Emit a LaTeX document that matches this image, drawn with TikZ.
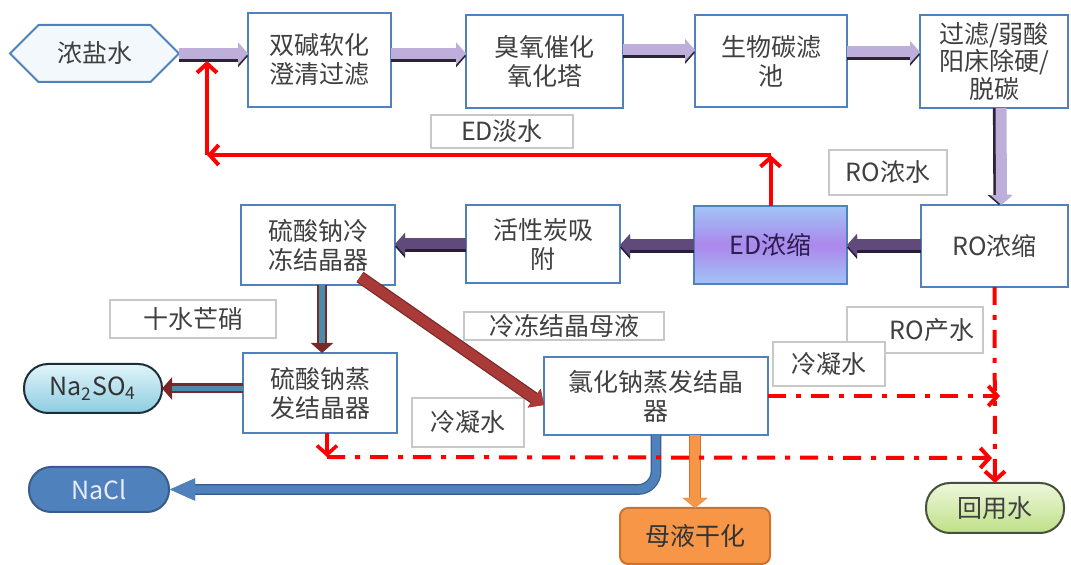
\documentclass[tikz,border=0pt]{standalone}
\usepackage{fontspec}
\setmainfont{Noto Sans CJK SC}
\usetikzlibrary{arrows.meta,shapes.symbols,calc}
\definecolor{boxblue}{RGB}{79,129,189}
\definecolor{txt}{RGB}{64,64,64}
\definecolor{lav}{RGB}{190,174,218}
\definecolor{lavdark}{RGB}{45,35,55}
\definecolor{midpurp}{RGB}{96,74,123}
\definecolor{midpurpdk}{RGB}{40,28,55}
\definecolor{brickred}{RGB}{170,58,56}
\definecolor{brickdk}{RGB}{120,40,38}
\definecolor{teal1}{RGB}{75,140,170}
\definecolor{nablue}{RGB}{79,129,189}
\definecolor{nabluedk}{RGB}{56,93,138}
\definecolor{orng}{RGB}{247,150,70}
\definecolor{orngdk}{RGB}{205,115,45}
\definecolor{lblgray}{RGB}{200,200,200}
\definecolor{brinefill}{RGB}{243,248,253}
\definecolor{edtop}{RGB}{160,196,245}
\definecolor{edmid}{RGB}{172,135,236}
\definecolor{edtxt}{RGB}{40,30,80}
\definecolor{cytop}{RGB}{225,244,249}
\definecolor{cybot}{RGB}{140,205,225}
\definecolor{cydk}{RGB}{30,45,55}
\definecolor{grtop}{RGB}{238,247,220}
\definecolor{grbot}{RGB}{190,224,135}
\definecolor{grdk}{RGB}{70,80,60}
\begin{document}
\begin{tikzpicture}[x=0.5pt,y=-0.5pt,
  every node/.style={font=\fontsize{12.5}{14.5}\selectfont, text=txt, inner sep=0pt, outer sep=0pt},
  box/.style={draw=boxblue, line width=1pt, fill=white, align=center},
  lbl/.style={draw=lblgray, line width=0.6pt, fill=white},
  toparr/.style={line width=5.5pt, draw=lav, -{Triangle[length=5pt,width=11pt]}},
  topshadow/.style={line width=5.5pt, draw=lavdark, -{Triangle[length=5pt,width=11pt]}, transform canvas={yshift=-1.3pt}},
  vertshadow/.style={line width=5.5pt, draw=lavdark, -{Triangle[length=5pt,width=11pt]}, transform canvas={xshift=-1.3pt}},
  midarr/.style={line width=5.5pt, draw=midpurp, -{Triangle[length=5pt,width=11pt]}},
  midshadow/.style={line width=5.5pt, draw=midpurpdk, -{Triangle[length=5pt,width=11pt]}, transform canvas={yshift=-1.3pt}},
  tealarr/.style={line width=5pt, draw=brickdk, -{Triangle[length=5pt,width=11pt]},
     postaction={draw=teal1, line width=2.6pt, -, shorten >=5pt}},
  diagarr/.style={line width=5pt, draw=brickred, -{Triangle[length=6pt,width=11pt]},
     preaction={draw=brickdk, line width=6.2pt}},
  bluearr/.style={line width=4.2pt, draw=nablue, rounded corners=9pt, -{Triangle[length=13pt,width=10pt]},
     preaction={draw=nabluedk, line width=5.4pt}},
  orarr/.style={line width=5pt, draw=orng, -{Triangle[length=5pt,width=12pt]},
     preaction={draw=orngdk, line width=6pt}},
  redarr/.style={draw=red, line width=2pt, -{Straight Barb[length=4.5pt,width=10pt]}},
  dashdot/.style={redarr, dash pattern=on 9pt off 5pt on 2.5pt off 5pt}
]
\useasboundingbox (0,0) rectangle (1071,565);

% ---- top row ----
\node[signal, signal to=west and east, signal pointer angle=90, draw=boxblue, line width=1pt,
      fill=brinefill, minimum width=84.5pt, minimum height=28.5pt] (brine) at (94.5,53.5) {浓盐水};
\node[box, minimum width=71.5pt, minimum height=47pt] (soft) at (319.5,60) {双碱软化\\澄清过滤};
\node[box, minimum width=78.5pt, minimum height=46.5pt] (ozone) at (544.5,61.5) {臭氧催化\\氧化塔};
\node[box, minimum width=76pt, minimum height=46pt] (bio) at (771,61) {生物碳滤\\池};
\node[box, minimum width=74pt, minimum height=46.5pt, font=\fontsize{12.5}{13.8}\selectfont] (filt) at (994,61.5) {过滤/弱酸\\阳床除硬/\\脱碳};

% ---- middle row ----
\node[box, minimum width=77pt, minimum height=40pt] (sfreeze) at (318,245) {硫酸钠冷\\冻结晶器};
\node[box, minimum width=77pt, minimum height=39pt] (carbon) at (543,244) {活性炭吸\\附};
\node[box, minimum width=76.5pt, minimum height=39pt, top color=edtop, bottom color=edtop, middle color=edmid, text=edtxt] (ed) at (770.5,245) {ED浓缩};
\node[box, minimum width=73.5pt, minimum height=41pt] (ro) at (994.5,246) {RO浓缩};

% ---- lower row ----
\node[box, minimum width=77pt, minimum height=40pt] (sevap) at (320,393) {硫酸钠蒸\\发结晶器};
\node[box, minimum width=112pt, minimum height=39pt] (nevap) at (656,396) {氯化钠蒸发结晶\\器};
\node[draw=cydk, line width=1pt, rounded corners=12pt, top color=cytop, bottom color=cybot,
      minimum width=69pt, minimum height=24.5pt, text=black!80] (na2so4) at (93,388.5) {Na\textsubscript{2}SO\textsubscript{4}};
\node[draw=nabluedk, line width=1pt, rounded corners=11pt, fill=nablue, text=white!92!blue,
      minimum width=70pt, minimum height=22.5pt] (nacl) at (99,489.5) {NaCl};
\node[draw=orngdk, line width=1pt, rounded corners=4pt, fill=orng, text=black!80,
      minimum width=75pt, minimum height=28pt] (dry) at (695,536) {母液干化};
\node[draw=grdk, line width=1pt, rounded corners=12pt, top color=grtop, bottom color=grbot,
      minimum width=69pt, minimum height=25pt] (reuse) at (995,508) {回用水};

% ---- labels ----
\node[lbl, minimum width=71pt, minimum height=16.5pt] (lblED) at (502,131.5) {ED淡水};
\node[lbl, minimum width=59pt, minimum height=22.5pt] (lblROc) at (888,172.5) {RO浓水};
\node[lbl, minimum width=83pt, minimum height=19pt] (lblMang) at (193,319) {十水芒硝};
\node[lbl, minimum width=100pt, minimum height=14pt] (lblMother) at (564,326) {冷冻结晶母液};
\node[lbl, minimum width=68pt, minimum height=23pt] (lblROp) at (915,330) {\hspace*{17pt}RO产水};
\node[lbl, minimum width=56pt, minimum height=22pt] (lblCondR) at (829,364) {冷凝水};
\node[lbl, minimum width=56pt, minimum height=24.5pt] (lblCondL) at (468,422.5) {冷凝水};

% ---- helper coordinates ----
\coordinate (y50) at (0,50);
\coordinate (y52) at (0,52);
\coordinate (r1) at (770.5,155);
\coordinate (r2) at (207,155);
\coordinate (r3) at (207,61);
\coordinate (d0) at (327,433);
\coordinate (d1) at (327,457);
\coordinate (d2) at (992,458);
\coordinate (d3) at (1000,396);

% ---- top row arrows (shadow, then arrow) ----
\draw[topshadow] (brine.east) -- (brine.east -| soft.west);
\draw[toparr] (brine.east) -- (brine.east -| soft.west);
\draw[topshadow] (soft.east |- brine.east) -- (ozone.west |- brine.east);
\draw[toparr] (soft.east |- brine.east) -- (ozone.west |- brine.east);
\draw[topshadow] (ozone.east |- y50) -- (bio.west |- y50);
\draw[toparr] (ozone.east |- y50) -- (bio.west |- y50);
\draw[topshadow] (bio.east |- y52) -- (filt.west |- y52);
\draw[toparr] (bio.east |- y52) -- (filt.west |- y52);
\draw[vertshadow] ([xshift=3.5pt]filt.south) -- ([xshift=3.5pt]ro.north);
\draw[toparr] ([xshift=3.5pt]filt.south) -- ([xshift=3.5pt]ro.north);

% ---- middle row arrows ----
\draw[midshadow] (ro.west |- ed.east) -- (ed.east);
\draw[midarr] (ro.west |- ed.east) -- (ed.east);
\draw[midshadow] (ed.west) -- (carbon.east |- ed.west);
\draw[midarr] (ed.west) -- (carbon.east |- ed.west);
\draw[midshadow] (carbon.west) -- (sfreeze.east |- carbon.west);
\draw[midarr] (carbon.west) -- (sfreeze.east |- carbon.west);

% ---- ED fresh water return ----
\draw[redarr] (ed.north) -- (r1);
\draw[redarr] (r1) -- (r2);
\draw[redarr] (r2) -- (r3);

% ---- lower connectors ----
\draw[tealarr] ([xshift=2pt]sfreeze.south) -- ([xshift=2pt]sfreeze.south |- sevap.north);
\draw[tealarr] (sevap.west |- na2so4.east) -- (na2so4.east);
\draw[diagarr] ([xshift=21pt,yshift=4pt]sfreeze.south) -- ([yshift=-4.5pt]nevap.west);
\draw[bluearr] (nevap.south) |- (nacl.east);
\draw[orarr] (dry.north |- nevap.south) -- (dry.north);

% ---- condensate / product water ----
\draw[redarr, line width=1.8pt] (d0) -- (d1);
\draw[dashdot] (d1) -- (d2);
\draw[dashdot] (nevap.east |- d3) -- (d3);
\draw[dashdot] (ro.south) -- (reuse.north);
\end{tikzpicture}
\end{document}
